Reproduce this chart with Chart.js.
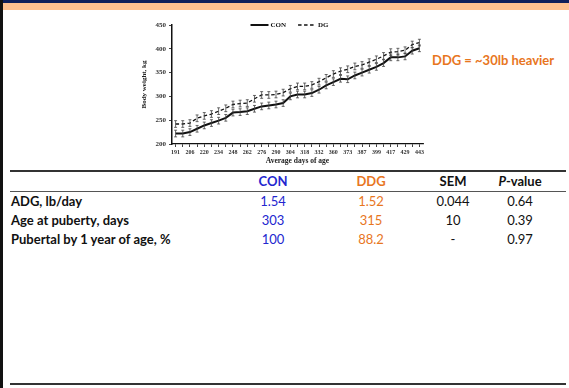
<!DOCTYPE html>
<html>
<head>
<meta charset="utf-8">
<script src="https://cdn.jsdelivr.net/npm/chart.js@4.4.1/dist/chart.umd.min.js"></script>
<style>
  html, body { margin: 0; padding: 0; background: #fff; }
  body { width: 569px; height: 388px; position: relative; overflow: hidden; font-family: Lato, "Open Sans", sans-serif; }
  .topbar { position: absolute; left: 0; top: 0; width: 569px; height: 3px; background: #0d1f5a; }
  .band { position: absolute; left: 0; top: 3px; width: 569px; height: 7px; background: #fcc08f; }
  .leftrule { position: absolute; left: 0; top: 0; width: 3px; height: 388px; background: #111; }
  .rule { position: absolute; left: 10px; width: 556px; background: #333; }
  #wrap { position: absolute; left: 140px; top: 10px; width: 290px; height: 158px; }
  .note { position: absolute; left: 432px; top: 52px; font-weight: 700; font-size: 13px; color: #e8761e; white-space: nowrap; }
  table { position: absolute; left: 10px; top: 171px; border-collapse: collapse; font-size: 13px; color: #111; }
  td { padding: 0; height: 19px; vertical-align: middle; text-align: center; white-space: nowrap; }
  tr.head td { height: 20px; font-weight: 700; }
  td.lab { text-align: left; font-weight: 700; padding-left: 1px; }
  .con { color: #2326cf; }
  .ddg { color: #e8761e; }
</style>
</head>
<body>
<div class="topbar"></div>
<div class="band"></div>
<div class="leftrule"></div>

<div id="wrap"><canvas id="weights"></canvas></div>
<div class="note">DDG = ~30lb heavier</div>

<div class="rule" style="top:170px;height:2px;"></div>
<div class="rule" style="top:191px;height:1px;background:#555;"></div>
<table id="summary">
  <colgroup><col style="width:214px"><col style="width:98px"><col style="width:98px"><col style="width:66px"><col style="width:68px"></colgroup>
</table>
<div class="rule" style="top:383px;height:2px;"></div>

<script>
// Average days of age shown on the x axis (one weighing between each labelled day)
const dayLabels = [191, 206, 220, 234, 248, 262, 276, 290, 304, 318, 332, 360, 373, 387, 399, 417, 429, 443];

// Mean body weight, kg, at each weighing
const conWeight = [222, 222, 225, 232, 239, 244, 249, 255, 266, 267, 269, 274, 279, 281, 283, 286, 300, 304,
                   304, 307, 314, 323, 330, 337, 336, 344, 350, 356, 362, 370, 382, 382, 384, 396, 401];
const dgWeight  = [242, 242, 244, 254, 259, 263, 269, 275, 283, 285, 286, 295, 303, 303, 304, 308, 316, 321,
                   321, 324, 331, 339, 347, 353, 357, 363, 366, 372, 378, 385, 393, 394, 397, 409, 413];

// Standard error of each series, kg
const conSem = 7;
const dgSem = 7;

const seriesNames = ['CON', 'DG'];

// Summary table
const tableHeader = ['', 'CON', 'DDG', 'SEM', 'P-value'];
const rowLabels = ['ADG, lb/day', 'Age at puberty, days', 'Pubertal by 1 year of age, %'];
const conStats = ['1.54', '303', '100'];
const ddgStats = ['1.52', '315', '88.2'];
const semStats = ['0.044', '10', '-'];
const pStats = ['0.64', '0.39', '0.97'];

// build the table
(function () {
  const t = document.getElementById('summary');
  const h = document.createElement('tr');
  h.className = 'head';
  h.innerHTML = '<td class="lab"></td><td class="con">' + tableHeader[1] + '</td><td class="ddg">' + tableHeader[2] +
    '</td><td>' + tableHeader[3] + '</td><td><i>P</i>' + tableHeader[4].slice(1) + '</td>';
  t.appendChild(h);
  rowLabels.forEach((lab, i) => {
    const r = document.createElement('tr');
    r.innerHTML = '<td class="lab">' + lab + '</td><td class="con">' + conStats[i] + '</td><td class="ddg">' +
      ddgStats[i] + '</td><td>' + semStats[i] + '</td><td>' + pStats[i] + '</td>';
    t.appendChild(r);
  });
})();

// category axis: every labelled day followed by one unlabelled weighing
const categories = [];
dayLabels.forEach((d, i) => {
  categories.push(String(d));
  if (i < dayLabels.length - 1) categories.push('');
});

const semBySeries = [conSem, dgSem];
const serif = 'Liberation Serif, Times New Roman, serif';

// vertical SEM whiskers with caps at every weighing
const errorBars = {
  id: 'errorBars',
  afterDatasetsDraw(chart) {
    const { ctx, scales: { x, y } } = chart;
    ctx.save();
    ctx.strokeStyle = '#444';
    ctx.lineWidth = 0.8;
    ctx.setLineDash([]);
    chart.data.datasets.forEach((ds, di) => {
      const sem = semBySeries[di];
      ds.data.forEach((v, i) => {
        const px = x.getPixelForValue(i);
        const yt = y.getPixelForValue(v + sem);
        const yb = y.getPixelForValue(v - sem);
        ctx.beginPath();
        ctx.moveTo(px, yt); ctx.lineTo(px, yb);
        ctx.moveTo(px - 1.5, yt); ctx.lineTo(px + 1.5, yt);
        ctx.moveTo(px - 1.5, yb); ctx.lineTo(px + 1.5, yb);
        ctx.stroke();
      });
    });
    ctx.restore();
  }
};

// one-row key across the top of the plot, line sample then series name
const seriesKey = {
  id: 'seriesKey',
  afterDraw(chart) {
    const { ctx, chartArea } = chart;
    ctx.save();
    ctx.font = 'bold 7px ' + serif;
    ctx.textBaseline = 'middle';
    ctx.fillStyle = '#111';
    ctx.strokeStyle = '#111';
    let x = (chartArea.left + chartArea.right) / 2 - 47;
    const y = chartArea.top;
    chart.data.datasets.forEach((ds) => {
      ctx.lineWidth = ds.borderWidth;
      ctx.setLineDash(ds.borderDash || []);
      ctx.beginPath();
      ctx.moveTo(x, y);
      ctx.lineTo(x + 18, y);
      ctx.stroke();
      ctx.setLineDash([]);
      ctx.fillText(ds.label, x + 20, y);
      x += 20 + ctx.measureText(ds.label).width + 12;
    });
    ctx.restore();
  }
};

new Chart(document.getElementById('weights'), {
  type: 'line',
  data: {
    labels: categories,
    datasets: [
      { label: seriesNames[0], data: conWeight, borderColor: '#111', borderWidth: 2, pointRadius: 0, tension: 0, fill: false },
      { label: seriesNames[1], data: dgWeight, borderColor: '#111', borderWidth: 1.3, borderDash: [3.5, 2.5], pointRadius: 0, tension: 0, fill: false }
    ]
  },
  options: {
    responsive: true,
    maintainAspectRatio: false,
    animation: false,
    layout: { padding: { top: 15, right: 7, left: 0, bottom: 0 } },
    plugins: {
      tooltip: { enabled: false },
      legend: { display: false }
    },
    scales: {
      x: {
        type: 'category',
        offset: true,
        grid: { display: true, drawOnChartArea: false, drawTicks: true, tickLength: 3, color: '#111', lineWidth: 0.8 },
        border: { display: true, color: '#111', width: 1.3 },
        ticks: { autoSkip: false, maxRotation: 0, minRotation: 0, padding: 2, color: '#333',
                 font: { family: serif, weight: 'bold', size: 6 } },
        title: { display: true, text: 'Average days of age', color: '#222',
                 font: { family: serif, weight: 'bold', size: 7.5 }, padding: { top: 1, bottom: 2 } },
        afterFit: (s) => { s.height = 24; }
      },
      y: {
        min: 200,
        max: 450,
        grid: { display: true, drawOnChartArea: false, drawTicks: true, tickLength: 3, color: '#111', lineWidth: 0.8 },
        border: { display: true, color: '#111', width: 1.5 },
        ticks: { stepSize: 50, padding: 3, color: '#333', font: { family: serif, weight: 'bold', size: 7 } },
        title: { display: true, text: 'Body weight, kg', color: '#222',
                 font: { family: serif, weight: 'bold', size: 7 }, padding: { top: 0, bottom: 2 } },
        afterFit: (s) => { s.width = 32; }
      }
    }
  },
  plugins: [errorBars, seriesKey]
});
</script>
</body>
</html>
